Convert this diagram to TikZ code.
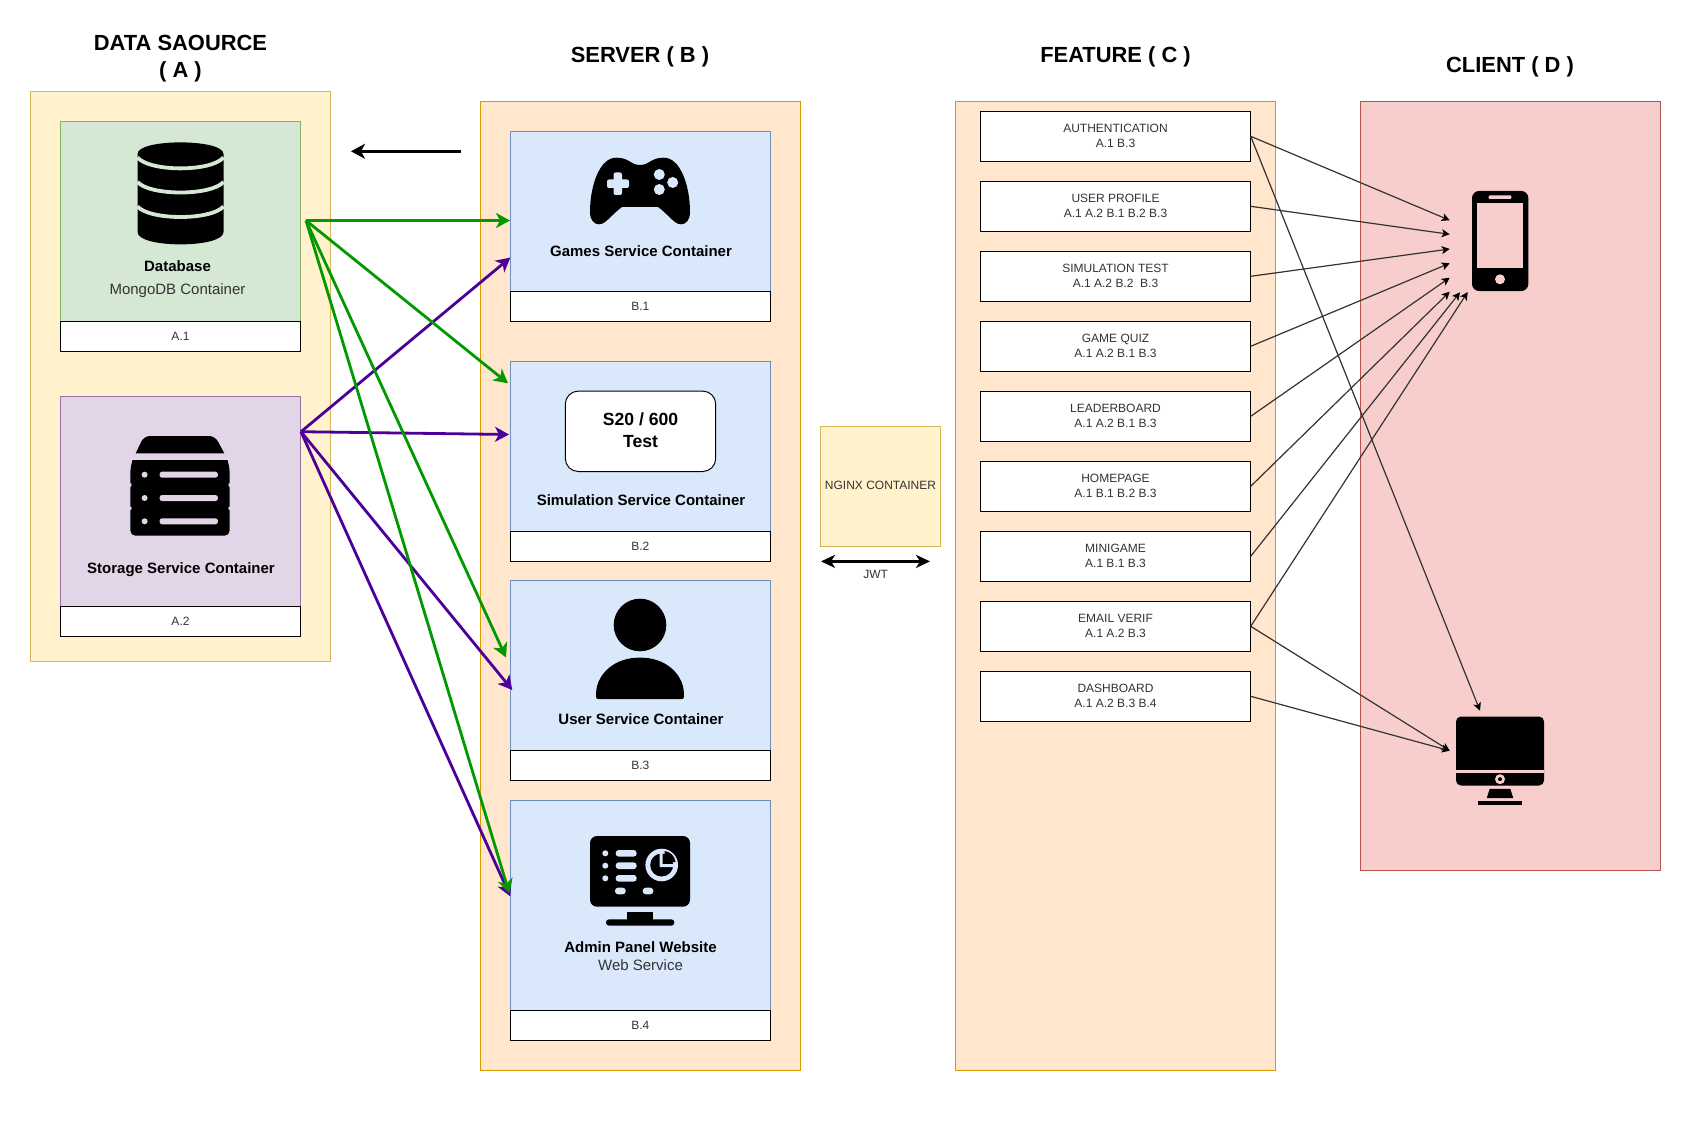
\documentclass[tikz,border=0pt]{standalone}
\usepackage{fontspec}
\setmainfont{Liberation Sans}
\usetikzlibrary{arrows.meta}
\definecolor{yellowfill}{HTML}{FFF2CC}
\definecolor{yellowline}{HTML}{D6B656}
\definecolor{orangefill}{HTML}{FFE6CC}
\definecolor{orangeline}{HTML}{D79B00}
\definecolor{greenfill}{HTML}{D5E8D4}
\definecolor{greenline}{HTML}{82B366}
\definecolor{purplefill}{HTML}{E1D5E7}
\definecolor{purpleline}{HTML}{9673A6}
\definecolor{bluefill}{HTML}{DAE8FC}
\definecolor{blueline}{HTML}{6C8EBF}
\definecolor{redfill}{HTML}{F8CECC}
\definecolor{redline}{HTML}{B85450}
\definecolor{greenarrow}{HTML}{009900}
\definecolor{purplearrow}{HTML}{4C0099}
\definecolor{greytext}{HTML}{333333}
\tikzset{
  box/.style={draw,line width=1pt,inner sep=0pt,outer sep=0pt,minimum width=#1},
  sized/.style 2 args={minimum width=#1,minimum height=#2},
  title/.style={font=\fontsize{21.9}{27}\selectfont\bfseries,align=center,inner sep=0pt},
  boldtext/.style={font=\fontsize{15}{18}\selectfont\bfseries,text=black,inner sep=0pt},
  plaintext/.style={font=\fontsize{15}{18}\selectfont,text=greytext,inner sep=0pt},
  smalltext/.style={font=\fontsize{12}{15}\selectfont,text=greytext,inner sep=0pt},
  tag/.style={draw=black,fill=white,line width=1.3pt,inner sep=0pt,outer sep=0pt,text=greytext,
    font=\fontsize{12}{15}\selectfont,align=center},
  greenlink/.style={draw=greenarrow,line width=2.8pt,-{Stealth[length=14pt,width=15pt,inset=4pt]}},
  purplelink/.style={draw=purplearrow,line width=2.8pt,-{Stealth[length=14pt,width=15pt,inset=4pt]}},
  thinlink/.style={draw=greytext,line width=1.2pt,-{Stealth[length=8pt,width=8pt,inset=2pt,black]}},
  blacklink/.style={draw=black,line width=2.5pt},
}
\begin{document}
\begin{tikzpicture}[x=1pt,y=-1pt]
    \useasboundingbox (0,0) rectangle (1691,1123);

    \node[box=300.3pt,minimum height=570pt,fill=yellowfill,draw=yellowline] (sourcepanel) at (180.5,376.3) {};
    \node[box=320pt,minimum height=969.4pt,fill=orangefill,draw=orangeline] (serverpanel) at (640.3,586) {};
    \node[box=320.4pt,minimum height=969.4pt,fill=orangefill,draw=orangeline] (featurepanel) at (1115.5,586) {};
    \node[box=300.4pt,minimum height=769.4pt,fill=redfill,draw=redline] (clientpanel) at (1510.5,486) {};

    \node[title] at (180.5,58.5) {DATA SAOURCE\\( A )};
    \node[title] at (640,56.5) {SERVER ( B )};
    \node[title] at (1115.5,56.5) {FEATURE ( C )};
    \node[title] at (1510,67.3) {CLIENT ( D )};

    \node[box=240.3pt,minimum height=200pt,fill=greenfill,draw=greenline] (database) at (180.5,221.3) {};
    \node[tag,sized={240.3pt}{30pt}] (a1) at (180.5,336.3) {A.1};
    \node[box=240.3pt,minimum height=210pt,fill=purplefill,draw=purpleline] (storage) at (180.5,501.3) {};
    \node[tag,sized={240.3pt}{30pt}] (a2) at (180.5,621.3) {A.2};

    \node[box=260pt,minimum height=160pt,fill=bluefill,draw=blueline] (games) at (640.3,211.3) {};
    \node[tag,sized={260pt}{30pt}] (b1) at (640.3,306.3) {B.1};
    \node[box=260pt,minimum height=170pt,fill=bluefill,draw=blueline] (simulation) at (640.3,446.3) {};
    \node[tag,sized={260pt}{30pt}] (b2) at (640.3,546.3) {B.2};
    \node[box=260pt,minimum height=170pt,fill=bluefill,draw=blueline] (user) at (640.3,665.8) {};
    \node[tag,sized={260pt}{30pt}] (b3) at (640.3,765.8) {B.3};
    \node[box=260pt,minimum height=210pt,fill=bluefill,draw=blueline] (admin) at (640.3,905.8) {};
    \node[tag,sized={260pt}{30pt}] (b4) at (640.3,1025.8) {B.4};

    \node[boldtext] at (177.5,266) {Database};
    \node[plaintext] at (177.5,291) {MongoDB Container};
    \node[boldtext] at (181,570) {Storage Service Container};
    \node[boldtext] at (641,251) {Games Service Container};
    \node[boldtext] at (641,500) {Simulation Service Container};
    \node[boldtext] at (641,719) {User Service Container};
    \node[boldtext] at (640.5,947) {Admin Panel Website};
    \node[plaintext] at (640.5,965) {Web Service};

    \node[draw=black,fill=white,line width=1pt,rounded corners=13pt,sized={150.4pt}{80.4pt}] (score) at (640.5,431.3) {};
    \node[align=center,inner sep=0pt,font=\fontsize{17.6}{22}\selectfont\bfseries] at (640.5,430.3) {S20 / 600\\Test};

    \node[box=120.4pt,minimum height=120.2pt,fill=yellowfill,draw=yellowline] (nginx) at (880.5,486.4) {};
    \node[smalltext] at (880.5,485.4) {NGINX CONTAINER};
    \coordinate (jwtleft) at (821,561.4);
    \coordinate (jwtright) at (930,561.4);
    \path[blacklink,{Stealth[length=14pt,width=13pt,inset=4pt]}-{Stealth[length=14pt,width=13pt,inset=4pt]}] (jwtleft) -- (jwtright);
    \node[smalltext] (jwt) at (875.7,574) {JWT};

    \node[tag,sized={270.4pt}{50pt}] (authentication) at (1115.5,136.3) {AUTHENTICATION\\A.1 B.3};
    \node[tag,sized={270.4pt}{50pt}] (profile) at (1115.5,206.3) {USER PROFILE\\A.1 A.2 B.1 B.2 B.3};
    \node[tag,sized={270.4pt}{50pt}] (simtest) at (1115.5,276.3) {SIMULATION TEST\\A.1 A.2 B.2\ \ B.3};
    \node[tag,sized={270.4pt}{50pt}] (quiz) at (1115.5,346.3) {GAME QUIZ\\A.1 A.2 B.1 B.3};
    \node[tag,sized={270.4pt}{50pt}] (leaderboard) at (1115.5,416.3) {LEADERBOARD\\A.1 A.2 B.1 B.3};
    \node[tag,sized={270.4pt}{50pt}] (homepage) at (1115.5,486.3) {HOMEPAGE\\A.1 B.1 B.2 B.3};
    \node[tag,sized={270.4pt}{50pt}] (minigame) at (1115.5,556.3) {MINIGAME\\A.1 B.1 B.3};
    \node[tag,sized={270.4pt}{50pt}] (emailverif) at (1115.5,626.3) {EMAIL VERIF\\A.1 A.2 B.3};
    \node[tag,sized={270.4pt}{50pt}] (dashboard) at (1115.5,696.3) {DASHBOARD\\A.1 A.2 B.3 B.4};

    \fill (137.5,154) .. controls (137.5,138.5) and (223.5,138.5) .. (223.5,154) -- (223.5,232)
        .. controls (223.5,248.5) and (137.5,248.5) .. (137.5,232) -- cycle;
    \draw[greenfill,line width=3.8pt] (137.5,157.5) .. controls (150,172) and (211,172) .. (223.5,157.5);
    \draw[greenfill,line width=3.8pt] (137.5,182) .. controls (150,196) and (211,196) .. (223.5,182);
    \draw[greenfill,line width=3.8pt] (137.5,206.5) .. controls (150,220.5) and (211,220.5) .. (223.5,206.5);

    \fill (135.7,453.3) [rounded corners=6pt] -- (144,436) -- (215,436) [sharp corners] -- (224.3,453.3) -- cycle;
    \fill (132.5,460) -- (227.5,460) [rounded corners=5pt] -- (229.6,468) -- (229.6,535.7) -- (130.4,535.7) -- (130.4,468) [sharp corners] -- cycle;
    \fill[purplefill] (129.7,485) circle (2pt) (230.3,485) circle (2pt) (129.7,508.3) circle (2pt) (230.3,508.3) circle (2pt);
    \fill[purplefill] (144.6,474.7) circle (3pt) (144.6,498) circle (3pt) (144.6,521.3) circle (3pt);
    \fill[purplefill,rounded corners=2.5pt] (159.6,471.7) rectangle (217.9,477.7);
    \fill[purplefill,rounded corners=2.5pt] (159.6,495) rectangle (217.9,501);
    \fill[purplefill,rounded corners=2.5pt] (159.6,518.3) rectangle (217.9,524.3);

    \fill (640,165) .. controls (630,165) and (630,157.7) .. (616,157.7)
        .. controls (600,157.7) and (590,185) .. (590,212)
        .. controls (590,220) and (594,224.3) .. (599,224.3)
        .. controls (606,224.3) and (612,214) .. (622,207) -- (658,207)
        .. controls (668,214) and (674,224.3) .. (681,224.3)
        .. controls (686,224.3) and (690,220) .. (690,212)
        .. controls (690,185) and (680,157.7) .. (664,157.7)
        .. controls (650,157.7) and (650,165) .. (640,165) -- cycle;
    \fill[bluefill,rounded corners=2pt] (607,179.5) rectangle (629,188);
    \fill[bluefill,rounded corners=2pt] (613.5,172.5) rectangle (622,195);
    \fill[bluefill] (659.3,174.5) circle (5.5pt) (672.7,182.5) circle (5.5pt) (659.3,189.5) circle (5.5pt);

    \fill (640,625) circle (26.3pt);
    \fill[rounded corners=2pt] (596,699) -- (596,695) .. controls (597,672) and (617,657.7) .. (640,657.7)
        .. controls (663,657.7) and (683,672) .. (684,695) -- (684,699) -- cycle;

    \fill[rounded corners=7pt] (590,836) rectangle (690,906.7);
    \fill (627.3,912.3) rectangle (652.7,921);
    \fill[rounded corners=3pt] (606,919.3) rectangle (674.3,925.7);
    \fill[bluefill] (605.3,853.3) circle (3pt) (605.3,865.7) circle (3pt) (605.3,878.3) circle (3pt);
    \fill[bluefill,rounded corners=3pt] (615.7,850) rectangle (636.7,856.6);
    \fill[bluefill,rounded corners=3pt] (615.7,862.4) rectangle (636.7,869);
    \fill[bluefill,rounded corners=3pt] (615.7,875) rectangle (636.7,881.6);
    \fill[bluefill,rounded corners=3pt] (615,887.7) rectangle (625.7,894.3);
    \fill[bluefill,rounded corners=3pt] (642.7,887.7) rectangle (653.3,894.3);
    \fill[bluefill] (661.7,865) circle (16.3pt);
    \fill (661.7,865) circle (11.5pt);
    \fill[bluefill] (659.5,853) rectangle (662.5,867) (659.5,864) rectangle (674,867);
    \fill (664.5,851) -- (664.5,862) -- (675.5,862) .. controls (675,856) and (670,851.5) .. (664.5,851) -- cycle;

    \fill[rounded corners=7pt] (1472,191) rectangle (1528.3,291);
    \fill[redfill] (1477,203.3) rectangle (1523,267.7);
    \fill[redfill,rounded corners=1pt] (1488.7,195.3) rectangle (1511.3,199);
    \fill[redfill] (1500,279.3) circle (5pt);

    \fill[rounded corners=5pt] (1456,716.5) rectangle (1544,785.5);
    \fill[redfill] (1456,769.5) rectangle (1544,772.8);
    \fill[redfill] (1500,779.2) circle (5pt);
    \fill (1500,779.2) circle (2pt);
    \fill (1489.7,788.8) -- (1510.3,788.8) -- (1513.3,798.2) -- (1486.7,798.2) -- cycle;
    \fill (1478,801.2) rectangle (1522,804.5);

    \coordinate (backstart) at (460.7,151.3);
    \coordinate (backend) at (351,151.3);
    \path[blacklink,-{Stealth[length=14pt,width=15pt,inset=4pt]}] (backstart) -- (backend);

    \coordinate (dbout) at (306,220.5);
    \coordinate (storeout) at (301,431.7);
    \coordinate (gamesgreen) at (510,220.5);
    \coordinate (simgreen) at (508,383.3);
    \coordinate (usergreen) at (506,657.5);
    \coordinate (admingreen) at (509.3,893.2);
    \coordinate (gamespurple) at (510.3,257.6);
    \coordinate (simpurple) at (509,434.5);
    \coordinate (userpurple) at (512.3,690);
    \coordinate (adminpurple) at (510.3,896.4);
    \path[purplelink] (storeout) -- (gamespurple);
    \path[purplelink] (storeout) -- (simpurple);
    \path[purplelink] (storeout) -- (userpurple);
    \path[purplelink] (storeout) -- (adminpurple);
    \path[greenlink] (dbout) -- (gamesgreen);
    \path[greenlink] (dbout) -- (simgreen);
    \path[greenlink] (dbout) -- (usergreen);
    \path[greenlink] (dbout) -- (admingreen);

    \coordinate (phone1) at (1449.7,220.3);
    \coordinate (phone2) at (1449.7,234.3);
    \coordinate (phone3) at (1449.7,249);
    \coordinate (phone4) at (1449.7,263.3);
    \coordinate (phone5) at (1449.7,277.7);
    \coordinate (phone6) at (1449.7,291.7);
    \coordinate (phone7) at (1460,292.3);
    \coordinate (phone8) at (1467.7,292);
    \coordinate (desktoptop) at (1480,710.7);
    \coordinate (desktopleft) at (1449.7,750.7);
    \path[thinlink] (authentication.east) -- (phone1);
    \path[thinlink] (profile.east) -- (phone2);
    \path[thinlink] (simtest.east) -- (phone3);
    \path[thinlink] (quiz.east) -- (phone4);
    \path[thinlink] (leaderboard.east) -- (phone5);
    \path[thinlink] (homepage.east) -- (phone6);
    \path[thinlink] (minigame.east) -- (phone7);
    \path[thinlink] (emailverif.east) -- (phone8);
    \path[thinlink] (authentication.east) -- (desktoptop);
    \path[thinlink] (emailverif.east) -- (desktopleft);
    \path[thinlink] (dashboard.east) -- (desktopleft);
\end{tikzpicture}
\end{document}
